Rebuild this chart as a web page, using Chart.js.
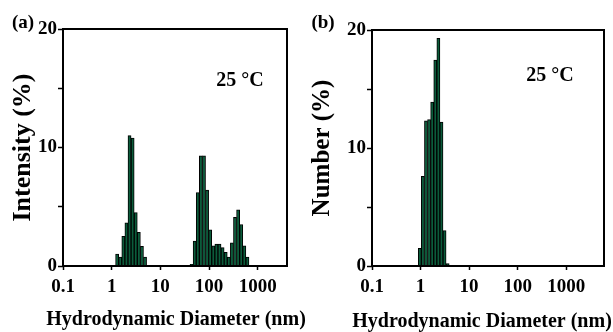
<!DOCTYPE html>
<html>
<head>
<meta charset="utf-8">
<script src="https://cdn.jsdelivr.net/npm/chart.js@4"></script>
<style>
  html, body { margin: 0; padding: 0; background: #fff; }
  #wrap { display: flex; width: 613px; height: 332px; }
  canvas { display: block; }
</style>
</head>
<body>
<div id="wrap">
  <canvas id="chartA" width="306" height="332"></canvas>
  <canvas id="chartB" width="307" height="332"></canvas>
</div>
<script>
// size bins (nm) and distribution values (%)
const sizesA = [1.294, 1.499, 1.736, 2.01, 2.328, 2.696, 3.122, 3.615, 4.187, 4.849,
  43.82, 50.75, 58.77, 68.06, 78.82, 91.28, 105.7, 122.4, 141.8, 164.2, 190.1, 220.2,
  255, 295.3, 342, 396.1, 458.7, 531.2, 615.1];
const intensity = [1.0, 0.75, 2.5, 3.65, 11.0, 10.8, 4.5, 2.85, 1.65, 0.75,
  0.15, 2.1, 6.2, 9.3, 9.3, 6.4, 3.05, 1.7, 1.85, 1.85, 1.55, 1.15,
  0.75, 1.95, 4.1, 4.75, 3.5, 1.7, 0.75];

const sizesB = [0.9649, 1.117, 1.294, 1.499, 1.736, 2.01, 2.328, 2.696, 3.122, 3.615];
const number = [1.5, 7.6, 12.3, 12.4, 13.9, 17.45, 19.3, 12.2, 3.0, 0.2];

const xTicks = [0.1, 1, 10, 100, 1000];
const yTicks = [0, 5, 10, 15, 20];
const yLabels = [0, 10, 20];

const serif = "'Liberation Serif', 'Times New Roman', serif";
Chart.defaults.font.family = serif;
Chart.defaults.font.weight = 'bold';
Chart.defaults.color = '#000';

// frame around plot area, x title (wider than the plot) and panel labels
const framePlugin = {
  id: 'frame',
  afterDraw(chart, args, o) {
    const { ctx, chartArea: a } = chart;
    ctx.save();
    ctx.strokeStyle = '#000';
    ctx.lineWidth = 2;
    ctx.strokeRect(a.left, a.top, a.right - a.left, a.bottom - a.top);
    ctx.fillStyle = '#000';
    ctx.textAlign = 'center';
    ctx.textBaseline = 'middle';
    ctx.font = 'bold 19px ' + serif;
    ctx.fillText(o.panel, o.panelX, o.panelY);
    ctx.font = 'bold 20px ' + serif;
    ctx.fillText('25 °C', o.tempX, o.tempY);
    ctx.font = 'bold 20px ' + serif;
    ctx.fillText('Hydrodynamic Diameter (nm)', o.xTitleX, o.xTitleY);
    ctx.restore();
  }
};

function makeChart(id, sizes, values, cfg) {
  return new Chart(document.getElementById(id), {
    type: 'bar',
    data: {
      datasets: [{
        data: sizes.map((s, i) => ({ x: s, y: values[i] })),
        backgroundColor: '#0b5c3b',
        borderColor: '#000',
        borderWidth: 1,
        barPercentage: 1,
        categoryPercentage: 1
      }]
    },
    options: {
      responsive: false,
      animation: false,
      layout: { padding: { left: 0, top: cfg.top, right: cfg.right, bottom: 0 } },
      plugins: {
        legend: { display: false },
        tooltip: { enabled: false },
        frame: cfg.frame
      },
      scales: {
        x: {
          type: 'logarithmic',
          min: 0.1,
          max: cfg.xMax,
          offset: false,
          afterBuildTicks: s => { s.ticks = xTicks.map(v => ({ value: v })); },
          afterFit: s => { s.height = 332 - cfg.bottom; },
          grid: { drawOnChartArea: false, offset: false, tickLength: 4, tickWidth: 1.5, tickColor: '#000' },
          border: { display: false },
          ticks: { font: { size: 19, weight: 'bold' }, padding: 6, maxRotation: 0, autoSkip: false, callback: v => String(v) },
          title: { display: false }
        },
        y: {
          min: 0,
          max: 20,
          afterBuildTicks: s => { s.ticks = yTicks.map(v => ({ value: v })); },
          afterFit: s => { s.width = cfg.left; },
          grid: { drawOnChartArea: false, tickLength: 5, tickWidth: 1.5, tickColor: '#000' },
          border: { display: false },
          ticks: { font: { size: 19, weight: 'bold' }, padding: 1, callback: v => yLabels.includes(v) ? String(v) : '' },
          title: { display: true, text: cfg.yTitle, font: { size: cfg.yTitleSize, weight: 'bold' }, padding: { top: cfg.yTitlePad, bottom: 0 } }
        }
      }
    },
    plugins: [framePlugin]
  });
}

makeChart('chartA', sizesA, intensity, {
  left: 63, top: 29, right: 19, bottom: 266, xMax: 4000,
  yTitle: 'Intensity (%)', yTitleSize: 26, yTitlePad: 8,
  frame: { panel: '(a)', panelX: 23, panelY: 23, tempX: 240, tempY: 81, xTitleX: 176, xTitleY: 320 }
});

makeChart('chartB', sizesB, number, {
  left: 66, top: 30, right: 9, bottom: 266, xMax: 6000,
  yTitle: 'Number (%)', yTitleSize: 25, yTitlePad: 2,
  frame: { panel: '(b)', panelX: 17, panelY: 23, tempX: 244, tempY: 76, xTitleX: 176, xTitleY: 322 }
});
</script>
</body>
</html>
